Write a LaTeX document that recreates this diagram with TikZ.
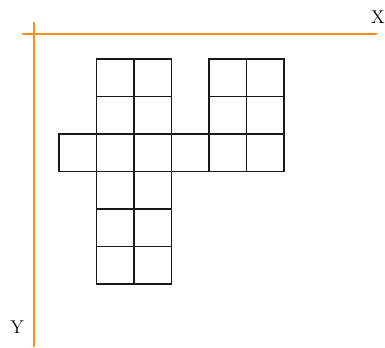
\documentclass[tikz,border=0pt]{standalone}
\usepackage{xcolor}
\usepackage{tikz}
\usetikzlibrary{positioning}

\definecolor{axisorange}{RGB}{247,148,30}

\begin{document}
\begin{tikzpicture}[
    cell/.style={draw=black!90, line width=0.9pt, minimum size=1cm,
                 inner sep=0pt, outer sep=0pt},
    axis/.style={draw=axisorange, line width=1.2pt},
    lbl/.style={font=\fontsize{14}{16}\selectfont, inner sep=0pt},
]
\useasboundingbox (-0.907,0.907) rectangle (9.36,-8.347);

% axes
\coordinate (xstart) at (-0.32,0);
\coordinate (xend) at (9.15,0);
\coordinate (ystart) at (0,0.32);
\coordinate (yend) at (0,-8.35);
\draw[axis] (xstart) -- (xend);
\draw[axis] (ystart) -- (yend);
\node[lbl] (xlabel) at (9.17,0.45) {X};
\node[lbl] (ylabel) at (-0.45,-7.81) {Y};

% unfolded cells
\foreach \c/\r in {1/0,2/0,4/0,5/0,
                   1/1,2/1,4/1,5/1,
                   0/2,1/2,2/2,3/2,4/2,5/2,
                   1/3,2/3,1/4,2/4,1/5,2/5}
    \node[cell] (c\c\r) at ({1.167+\c},{-1.167-\r}) {};
\end{tikzpicture}
\end{document}
